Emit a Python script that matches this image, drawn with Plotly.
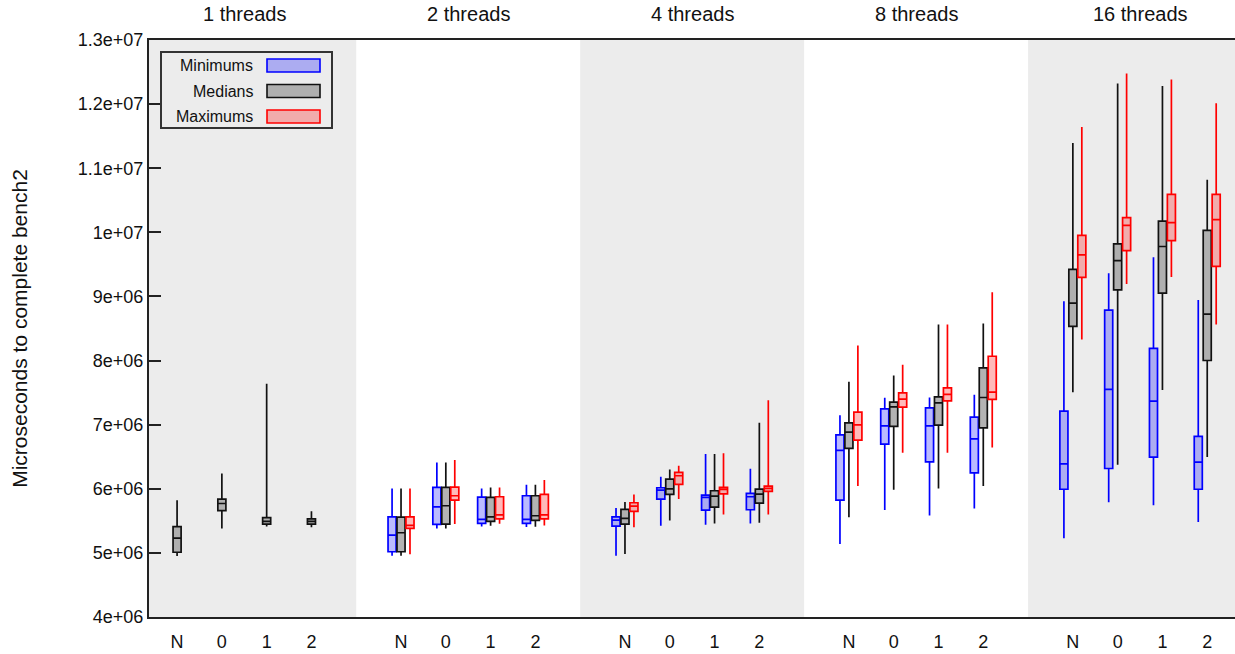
import plotly.graph_objects as go

# ---------------- data (microseconds) ----------------
threads = [1, 2, 4, 8, 16]
panel_titles = ["1 threads", "2 threads", "4 threads", "8 threads", "16 threads"]
categories = ["N", "0", "1", "2"]

# order: panel (1,2,4,8,16 threads) x category (N,0,1,2)
min_lo = [None, None, None, None,
          4.956e6, 5.382e6, 5.413e6, 5.403e6,
          4.956e6, 5.423e6, 5.439e6, 5.460e6,
          5.138e6, 5.668e6, 5.585e6, 5.694e6,
          5.230e6, 5.791e6, 5.743e6, 5.481e6]
min_q1 = [None, None, None, None,
          5.018e6, 5.444e6, 5.460e6, 5.460e6,
          5.418e6, 5.839e6, 5.668e6, 5.673e6,
          5.824e6, 6.696e6, 6.421e6, 6.249e6,
          5.993e6, 6.316e6, 6.495e6, 5.993e6]
min_med = [None, None, None, None,
           5.278e6, 5.719e6, 5.522e6, 5.522e6,
           5.512e6, 5.979e6, 5.866e6, 5.876e6,
           6.598e6, 6.982e6, 6.982e6, 6.779e6,
           6.388e6, 7.552e6, 7.367e6, 6.417e6]
min_q3 = [None, None, None, None,
          5.563e6, 6.021e6, 5.870e6, 5.891e6,
          5.563e6, 6.016e6, 5.901e6, 5.928e6,
          6.842e6, 7.247e6, 7.262e6, 7.117e6,
          7.212e6, 8.788e6, 8.191e6, 6.818e6]
min_hi = [None, None, None, None,
          6.006e6, 6.411e6, 6.006e6, 6.062e6,
          5.699e6, 6.187e6, 6.541e6, 6.312e6,
          7.148e6, 7.418e6, 7.424e6, 7.465e6,
          8.925e6, 9.362e6, 9.613e6, 8.944e6]

med_lo = [4.950e6, 5.380e6, 5.410e6, 5.400e6,
          4.956e6, 5.382e6, 5.423e6, 5.408e6,
          4.982e6, 5.507e6, 5.460e6, 5.470e6,
          5.554e6, 5.984e6, 6.006e6, 6.042e6,
          7.505e6, 6.375e6, 7.541e6, 6.495e6]
med_q1 = [5.010e6, 5.660e6, 5.450e6, 5.450e6,
          5.018e6, 5.450e6, 5.492e6, 5.507e6,
          5.450e6, 5.912e6, 5.714e6, 5.777e6,
          6.629e6, 6.972e6, 6.992e6, 6.950e6,
          8.532e6, 9.104e6, 9.052e6, 8.001e6]
med_med = [5.230e6, 5.770e6, 5.490e6, 5.490e6,
           5.314e6, 5.735e6, 5.563e6, 5.579e6,
           5.538e6, 6.000e6, 5.886e6, 5.917e6,
           6.883e6, 7.278e6, 7.340e6, 7.424e6,
           8.896e6, 9.559e6, 9.779e6, 8.723e6]
med_q3 = [5.410e6, 5.840e6, 5.550e6, 5.530e6,
          5.557e6, 6.021e6, 5.866e6, 5.891e6,
          5.678e6, 6.151e6, 5.969e6, 5.995e6,
          7.029e6, 7.351e6, 7.434e6, 7.886e6,
          9.421e6, 9.821e6, 10.174e6, 10.030e6]
med_hi = [5.820e6, 6.240e6, 7.640e6, 5.650e6,
          6.006e6, 6.411e6, 6.021e6, 6.062e6,
          5.792e6, 6.302e6, 6.541e6, 7.029e6,
          7.668e6, 7.767e6, 8.562e6, 8.577e6,
          11.392e6, 12.323e6, 12.281e6, 10.819e6]

max_lo = [None, None, None, None,
          4.977e6, 5.450e6, 5.455e6, 5.429e6,
          5.398e6, 5.839e6, 5.600e6, 5.600e6,
          6.042e6, 6.561e6, 6.561e6, 6.645e6,
          8.328e6, 9.195e6, 9.302e6, 8.562e6]
max_q1 = [None, None, None, None,
          5.382e6, 5.824e6, 5.532e6, 5.532e6,
          5.647e6, 6.068e6, 5.922e6, 5.959e6,
          6.759e6, 7.273e6, 7.371e6, 7.393e6,
          9.296e6, 9.714e6, 9.870e6, 9.469e6]
max_med = [None, None, None, None,
           5.429e6, 5.891e6, 5.594e6, 5.594e6,
           5.730e6, 6.203e6, 5.990e6, 6.006e6,
           6.997e6, 7.398e6, 7.471e6, 7.507e6,
           9.648e6, 10.108e6, 10.150e6, 10.198e6]
max_q3 = [None, None, None, None,
          5.563e6, 6.026e6, 5.876e6, 5.912e6,
          5.782e6, 6.255e6, 6.021e6, 6.042e6,
          7.195e6, 7.496e6, 7.574e6, 8.067e6,
          9.952e6, 10.228e6, 10.591e6, 10.591e6]
max_hi = [None, None, None, None,
          6.006e6, 6.447e6, 6.021e6, 6.135e6,
          5.912e6, 6.358e6, 6.556e6, 7.382e6,
          8.234e6, 7.933e6, 8.562e6, 9.065e6,
          11.643e6, 12.477e6, 12.382e6, 12.013e6]

y_tickvals = [4e6, 5e6, 6e6, 7e6, 8e6, 9e6, 1e7, 1.1e7, 1.2e7, 1.3e7]
y_ticktext = ["4e+06", "5e+06", "6e+06", "7e+06", "8e+06", "9e+06",
              "1e+07", "1.1e+07", "1.2e+07", "1.3e+07"]

series_names = ["Minimums", "Medians", "Maximums"]

# ---------------- styling ----------------
FONT = "Liberation Sans, Arial, sans-serif"
PANEL_GRAY = "#ececec"
styles = {
    "Minimums": dict(line="#0000ff", fill="rgba(0,0,255,0.27)", off=-0.2),
    "Medians": dict(line="#111111", fill="rgba(160,160,160,0.8)", off=0.0),
    "Maximums": dict(line="#ff0000", fill="rgba(255,0,0,0.27)", off=0.2),
}
series_data = {
    "Minimums": (min_lo, min_q1, min_med, min_q3, min_hi),
    "Medians": (med_lo, med_q1, med_med, med_q3, med_hi),
    "Maximums": (max_lo, max_q1, max_med, max_q3, max_hi),
}

PANEL_W = 5  # units per panel; categories at 1..4 inside
cat_pos = []
for p in range(len(threads)):
    for c in range(len(categories)):
        cat_pos.append(p * PANEL_W + c + 1)

fig = go.Figure()

for name in series_names:
    lo, q1, med, q3, hi = series_data[name]
    st = styles[name]
    idx = [i for i in range(len(cat_pos)) if med[i] is not None]
    fig.add_trace(go.Box(
        name=name,
        x=[cat_pos[i] + st["off"] for i in idx],
        lowerfence=[lo[i] for i in idx],
        q1=[q1[i] for i in idx],
        median=[med[i] for i in idx],
        q3=[q3[i] for i in idx],
        upperfence=[hi[i] for i in idx],
        width=0.18,
        whiskerwidth=0,
        line=dict(color=st["line"], width=1.7),
        fillcolor=st["fill"],
        boxpoints=False,
        hoverinfo="skip",
        showlegend=False,
    ))

# panel backgrounds and titles
x_min, x_max = 0.373, 24.62
shapes = []
annotations = []
for p, title in enumerate(panel_titles):
    if p % 2 == 0:
        shapes.append(dict(type="rect", xref="x", yref="paper",
                           x0=max(p * PANEL_W, x_min), x1=min((p + 1) * PANEL_W, x_max),
                           y0=0, y1=1, fillcolor=PANEL_GRAY, line=dict(width=0),
                           layer="below"))
    annotations.append(dict(x=p * PANEL_W + PANEL_W / 2, y=1, xref="x", yref="paper",
                            yanchor="middle", yshift=26, text=title, showarrow=False,
                            font=dict(family=FONT, size=20, color="#111")))

# manual legend (pixel positions converted to paper coords)
L, T, W, H = 149, 40, 1086, 577
def px(xp):
    return (xp - L) / W
def py(yp):
    return 1 - (yp - T) / H

shapes.append(dict(type="rect", xref="paper", yref="paper",
                   x0=px(161), x1=px(332), y0=py(52), y1=py(128),
                   line=dict(color="#333", width=2), fillcolor="rgba(0,0,0,0)"))
leg_rows = [65.5, 91, 116.5]
for name, yc in zip(series_names, leg_rows):
    st = styles[name]
    shapes.append(dict(type="rect", xref="paper", yref="paper",
                       x0=px(267), x1=px(320), y0=py(yc - 6.5), y1=py(yc + 6.5),
                       line=dict(color=st["line"], width=1.6), fillcolor=st["fill"]))
    annotations.append(dict(x=px(255), y=py(yc), xref="paper", yref="paper",
                            xanchor="right", yanchor="middle", text=name,
                            showarrow=False,
                            font=dict(family="Liberation Sans Narrow, " + FONT,
                                      size=16, color="#111")))

fig.update_layout(
    width=1235, height=654,
    margin=dict(l=L, r=0, t=T, b=654 - T - H),
    plot_bgcolor="white", paper_bgcolor="white",
    boxmode="overlay",
    showlegend=False,
    hovermode=False,
    shapes=shapes,
    annotations=annotations,
    font=dict(family=FONT, color="#111"),
    xaxis=dict(
        range=[x_min, x_max],
        tickvals=cat_pos,
        ticktext=categories * len(threads),
        ticks="",
        showgrid=False, zeroline=False,
        showline=True, linecolor="#222", linewidth=2, mirror=True,
        tickfont=dict(family=FONT, size=18, color="#111"),
        ticklabelstandoff=7,
    ),
    yaxis=dict(
        range=[4e6, 1.3e7],
        tickvals=y_tickvals,
        ticktext=y_ticktext,
        ticks="inside", ticklen=12, tickwidth=1.5, tickcolor="#222",
        showgrid=False, zeroline=False,
        showline=True, linecolor="#222", linewidth=2,
        tickfont=dict(family=FONT, size=18, color="#111"),
        title=dict(text="Microseconds to complete bench2",
                   font=dict(family=FONT, size=21, color="#111"),
                   standoff=44),
    ),
)

fig.write_html("out.html",
               config={"displayModeBar": False},
               post_script="document.body.style.margin='0';document.body.style.overflow='hidden';")
